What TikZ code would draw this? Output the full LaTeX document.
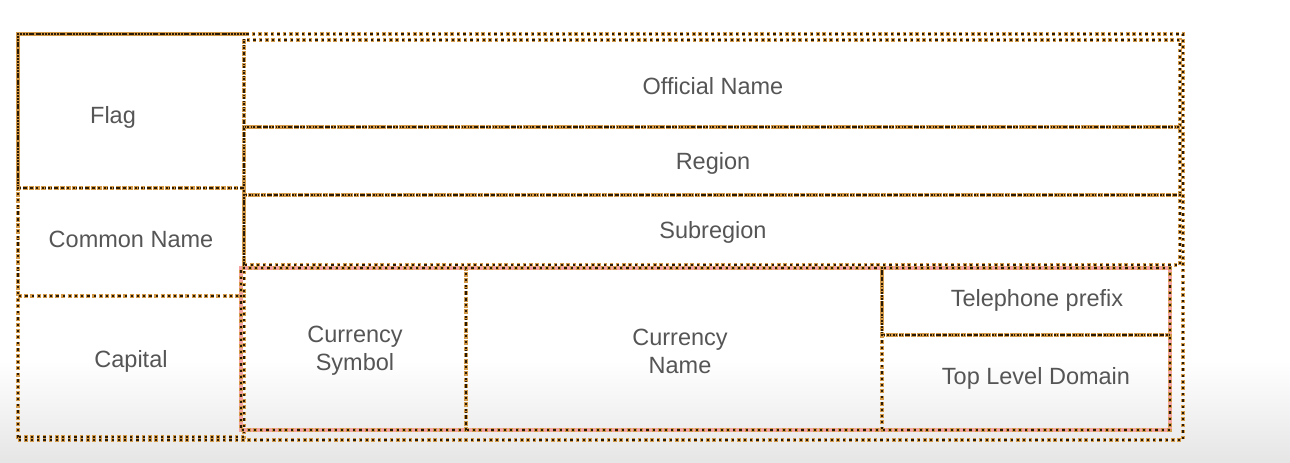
\documentclass[tikz,border=0pt]{standalone}
\usepackage{fontspec}
\setmainfont{Liberation Sans}
\begin{document}
\begin{tikzpicture}[x=1pt,y=-1pt,
  cell/.style={rectangle, inner sep=0pt, outer sep=0pt,
    preaction={draw=dotor, line width=4.2pt, dash pattern=on 3.4pt off 2.8pt},
    postaction={draw=dotdk, line width=2.2pt, dash pattern=on 2.2pt off 4pt, dash phase=-0.6pt}},
  lbl/.style={inner sep=0pt, align=center, text=txt,
    font=\fontsize{23.5}{28}\selectfont},
  pinkbox/.style={rectangle, inner sep=0pt, outer sep=0pt, draw=pinkline, line width=3.5pt}
]
\definecolor{dotor}{HTML}{D39A4A}
\definecolor{dotdk}{HTML}{2A1A08}
\definecolor{txt}{HTML}{555555}
\definecolor{pinkline}{HTML}{F4A3A3}
\useasboundingbox (0,0) rectangle (1290,463);
\shade[top color=white, bottom color=black!10] (0,360) rectangle (1290,463);
% outer frame
\node[cell, minimum width=1165pt, minimum height=406pt] (frame) at (600.5,237) {};
% left column
\node[cell, minimum width=226pt, minimum height=154pt] (flag) at (131,111) {};
\node[cell, minimum width=226pt, minimum height=108pt] (common) at (131,242) {};
\node[cell, minimum width=226pt, minimum height=141pt] (capital) at (131,366.5) {};
% right rows
\node[cell, minimum width=936pt, minimum height=87pt] (official) at (712,83.5) {};
\node[cell, minimum width=936pt, minimum height=68pt] (region) at (712,161) {};
\node[cell, minimum width=936pt, minimum height=70pt] (subregion) at (712,230) {};
% bottom block
\node[pinkbox, minimum width=929pt, minimum height=162pt] (bottom) at (705.5,349) {};
\node[cell, minimum width=225pt, minimum height=162pt] (csym) at (353.5,349) {};
\node[cell, minimum width=416pt, minimum height=162pt] (cname) at (674,349) {};
\node[cell, minimum width=288pt, minimum height=67pt] (tel) at (1026,301.5) {};
\node[cell, minimum width=288pt, minimum height=95pt] (tld) at (1026,382.5) {};
% labels
\node[lbl] (flagt) at (113,117) {Flag};
\node[lbl] (commont) at (131,239) {Common Name};
\node[lbl] (capitalt) at (131,361) {Capital};
\node[lbl] (officialt) at (713,86) {Official Name};
\node[lbl] (regiont) at (713,163) {Region};
\node[lbl] (subregiont) at (713,232) {Subregion};
\node[lbl] (csymt) at (355,351) {Currency\\Symbol};
\node[lbl] (cnamet) at (680,351) {Currency\\Name};
\node[lbl] (telt) at (1037,300) {Telephone prefix};
\node[lbl] (tldt) at (1036,378) {Top Level Domain};
\end{tikzpicture}
\end{document}
